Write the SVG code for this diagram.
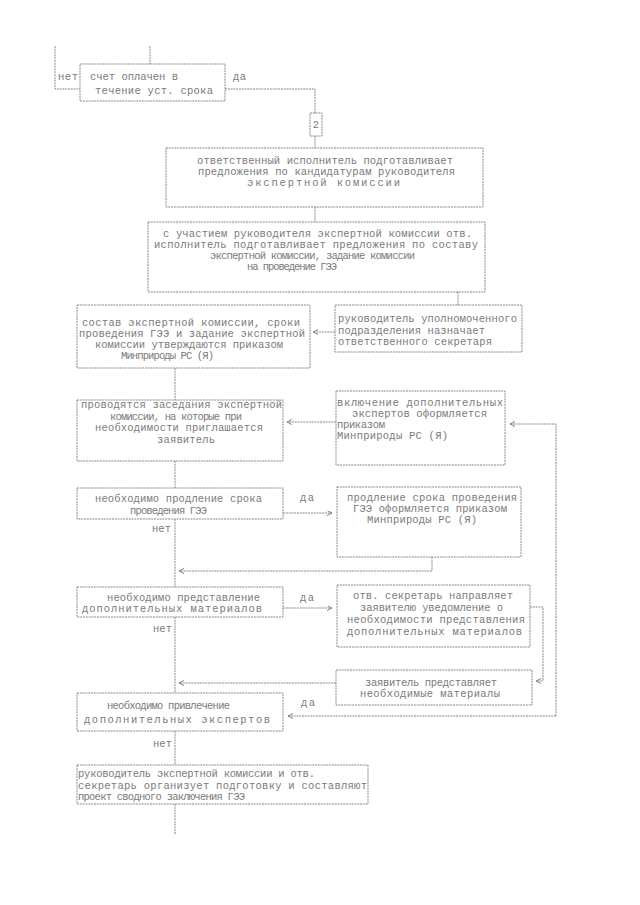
<svg xmlns="http://www.w3.org/2000/svg" width="640" height="905" viewBox="0 0 640 905">
<defs>
<marker id="ah" markerUnits="userSpaceOnUse" markerWidth="8" markerHeight="8" refX="5" refY="2.5" orient="auto">
<path d="M0,0 L5,2.5 L0,5" fill="none" stroke="#808080" stroke-width="1"/>
</marker>
<style>
rect{fill:none;stroke:#8a8a8a;stroke-width:1;stroke-dasharray:2 0.8}
text{font-family:"Liberation Mono","DejaVu Sans Mono",monospace;font-size:10.5px;fill:#7a7a7a}
.c line,.c polyline{fill:none;stroke:#8a8a8a;stroke-width:1;stroke-dasharray:2 0.8}
.a{marker-end:url(#ah)}
</style>
</defs>
<rect x="0" y="0" width="640" height="905" style="fill:#ffffff;stroke:none"/>
<g class="c" id="connectors">
<polyline points="55,46 55,89 80,89"/>
<line x1="150" y1="46" x2="150" y2="64"/>
<polyline points="225,89 315,89 315,113"/>
<line x1="315" y1="136" x2="315" y2="148"/>
<line x1="315" y1="207" x2="315" y2="222"/>
<line x1="458" y1="292" x2="458" y2="305"/>
<line class="a" x1="335" y1="332" x2="313" y2="332"/>
<line x1="175" y1="368" x2="175" y2="400"/>
<line class="a" x1="336" y1="422" x2="287" y2="422"/>
<line x1="175" y1="461" x2="175" y2="488"/>
<line class="a" x1="283" y1="513" x2="332" y2="513"/>
<line x1="175" y1="519" x2="175" y2="587"/>
<polyline class="a" points="432,557 432,571 179,571"/>
<line class="a" x1="283" y1="608" x2="332" y2="608"/>
<polyline class="a" points="530,607 543,607 543,681 536,681"/>
<line x1="175" y1="617" x2="175" y2="693"/>
<line class="a" x1="336" y1="683" x2="179" y2="683"/>
<polyline class="a" points="556,716 556,424 510,424"/>
<line class="a" x1="556" y1="716" x2="288" y2="716"/>
<line x1="175" y1="731" x2="175" y2="765"/>
<line x1="175" y1="804" x2="175" y2="835"/>
</g>
<g id="labels">
<text x="58" y="80" textLength="20">нет</text>
<text x="233" y="80" textLength="13">да</text>
<text x="300" y="501" textLength="14">да</text>
<text x="152" y="532" textLength="19">нет</text>
<text x="300" y="601" textLength="14">да</text>
<text x="153" y="632" textLength="19">нет</text>
<text x="301" y="706" textLength="14">да</text>
<text x="153" y="747" textLength="19">нет</text>
</g>
<g id="n1">
<rect x="80" y="64" width="145" height="37"/>
<text x="90" y="80" textLength="88">счет оплачен в</text>
<text x="95" y="94" textLength="118">течение уст. срока</text>
</g>
<g id="n2">
<rect x="310" y="113" width="12" height="23"/>
<text x="316" y="128" text-anchor="middle">2</text>
</g>
<g id="n3">
<rect x="166" y="148" width="317" height="59"/>
<text x="197" y="164" textLength="256">ответственный исполнитель подготавливает</text>
<text x="198" y="175" textLength="257">предложения по кандидатурам руководителя</text>
<text x="247" y="186" textLength="153">экспертной комиссии</text>
</g>
<g id="n4">
<rect x="148" y="222" width="337" height="70"/>
<text x="163" y="237" textLength="309">с участием руководителя экспертной комиссии отв.</text>
<text x="154" y="248" textLength="324">исполнитель подготавливает предложения по составу</text>
<text x="210" y="259" textLength="205">экспертной комиссии, задание комиссии</text>
<text x="247" y="270" textLength="90">на проведение ГЭЭ</text>
</g>
<g id="n5">
<rect x="335" y="305" width="187" height="47"/>
<text x="338" y="322" textLength="179">руководитель уполномоченного</text>
<text x="338" y="334" textLength="147">подразделения назначает</text>
<text x="338" y="345" textLength="154">ответственного секретаря</text>
</g>
<g id="n6">
<rect x="77" y="305" width="233" height="63"/>
<text x="82" y="326" textLength="218">состав экспертной комиссии, сроки</text>
<text x="79" y="337" textLength="226">проведения ГЭЭ и задание экспертной</text>
<text x="95" y="348" textLength="188">комиссии утверждаются приказом</text>
<text x="121" y="359" textLength="93">Минприроды РС (Я)</text>
</g>
<g id="n7">
<rect x="77" y="400" width="206" height="61"/>
<text x="81" y="408" textLength="201">проводятся заседания экспертной</text>
<text x="110" y="420" textLength="132">комиссии, на которые при</text>
<text x="95" y="431" textLength="168">необходимости приглашается</text>
<text x="157" y="443" textLength="58">заявитель</text>
</g>
<g id="n8">
<rect x="336" y="391" width="169" height="74"/>
<text x="337" y="406" textLength="166">включение дополнительных</text>
<text x="352" y="417" textLength="135">экспертов оформляется</text>
<text x="337" y="428" textLength="48">приказом</text>
<text x="337" y="439" textLength="111">Минприроды РС (Я)</text>
</g>
<g id="n9">
<rect x="77" y="488" width="206" height="31"/>
<text x="95" y="502" textLength="167">необходимо продление срока</text>
<text x="130" y="514" textLength="77">проведения ГЭЭ</text>
</g>
<g id="n10">
<rect x="337" y="487" width="184" height="70"/>
<text x="347" y="501" textLength="170">продление срока проведения</text>
<text x="353" y="512" textLength="154">ГЭЭ оформляется приказом</text>
<text x="367" y="523" textLength="110">Минприроды РС (Я)</text>
</g>
<g id="n11">
<rect x="77" y="587" width="206" height="30"/>
<text x="107" y="601" textLength="153">необходимо представление</text>
<text x="82" y="612" textLength="180">дополнительных материалов</text>
</g>
<g id="n12">
<rect x="337" y="585" width="193" height="62"/>
<text x="353" y="599" textLength="160">отв. секретарь направляет</text>
<text x="360" y="611" textLength="143">заявителю уведомление о</text>
<text x="347" y="623" textLength="178">необходимости представления</text>
<text x="347" y="635" textLength="175">дополнительных материалов</text>
</g>
<g id="n13">
<rect x="336" y="670" width="196" height="35"/>
<text x="365" y="686" textLength="132">заявитель представляет</text>
<text x="360" y="697" textLength="140">необходимые материалы</text>
</g>
<g id="n14">
<rect x="77" y="693" width="206" height="38"/>
<text x="107" y="709" textLength="123">необходимо привлечение</text>
<text x="84" y="723" textLength="186">дополнительных экспертов</text>
</g>
<g id="n15">
<rect x="77" y="765" width="291" height="39"/>
<text x="78" y="777" textLength="237">руководитель экспертной комиссии и отв.</text>
<text x="78" y="789" textLength="289">секретарь организует подготовку и составляют</text>
<text x="78" y="800" textLength="167">проект сводного заключения ГЭЭ</text>
</g>
</svg>
